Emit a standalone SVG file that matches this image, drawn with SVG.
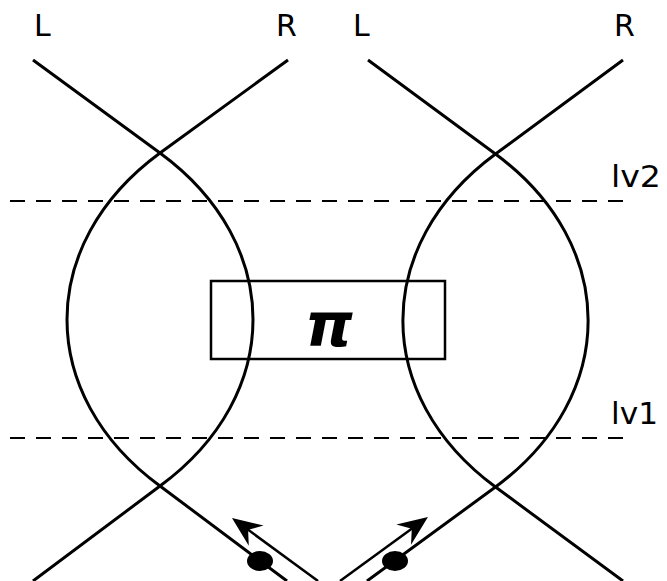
<svg xmlns="http://www.w3.org/2000/svg" width="667" height="581" viewBox="0 0 667 581">
<style>
.strand{fill:none;stroke:#000;stroke-width:3}
.dash{fill:none;stroke:#000;stroke-width:2;stroke-dasharray:15 11}
.lbl{font-family:"DejaVu Sans",sans-serif;font-size:30px;fill:#000}
.shaft{fill:none;stroke:#000;stroke-width:2.5}
</style>
<defs>
<marker id="ah" markerUnits="userSpaceOnUse" markerWidth="40" markerHeight="30" viewBox="-15 -15 40 30" refX="0" refY="0" orient="auto">
<path d="M18,0 L-12,-12.5 L-2,0 L-12,12.5 Z" fill="#000"/>
</marker>
</defs>
<g id="levels">
<line class="dash" x1="10" y1="201" x2="632" y2="201"/>
<line class="dash" x1="10" y1="438" x2="632" y2="438"/>
<text class="lbl" x="611" y="187" textLength="50" lengthAdjust="spacingAndGlyphs">lv2</text>
<text class="lbl" x="611" y="424" textLength="47" lengthAdjust="spacingAndGlyphs">lv1</text>
</g>
<g id="pi">
<rect x="211" y="281" width="234" height="78" fill="none" stroke="#000" stroke-width="2.5"/>
<text x="329" y="346" text-anchor="middle" font-family="DejaVu Sans, sans-serif" font-size="60" font-weight="bold" font-style="italic" textLength="48" lengthAdjust="spacingAndGlyphs">π</text>
</g>
<g id="left-braid">
<path class="strand" d="M33,60 L160,153 C284,244 284,395 160,486 L33,581"/>
<path class="strand" d="M288,60 L160,153 C36,244 36,395 160,486 L287,581"/>
<text class="lbl" x="34" y="36">L</text>
<text class="lbl" x="276" y="36">R</text>
<text class="lbl" x="353" y="36">L</text>
</g>
<g id="right-braid">
<path class="strand" d="M368,60 L495.5,154 C619,245 619,396 495.5,487 L623,581"/>
<path class="strand" d="M623,60 L495.5,154 C372,245 372,396 495.5,487 L367,581"/>
<text class="lbl" x="614" y="36">R</text>
</g>
<g id="connectors">
<line class="shaft" x1="318" y1="581" x2="246.5" y2="528.6" marker-end="url(#ah)"/>
<line class="shaft" x1="340" y1="581" x2="413.4" y2="527.6" marker-end="url(#ah)"/>
<ellipse cx="260" cy="561" rx="13" ry="10" fill="#000"/>
<ellipse cx="395" cy="561" rx="13" ry="10" fill="#000"/>
</g>
</svg>
